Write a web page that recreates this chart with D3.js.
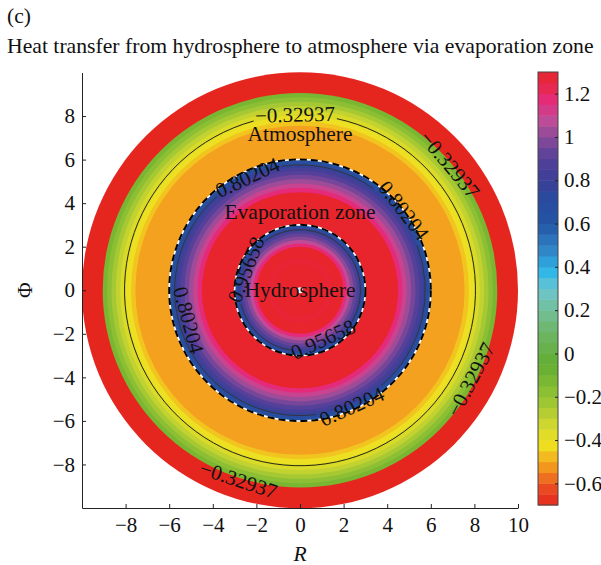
<!DOCTYPE html>
<html>
<head>
<meta charset="utf-8">
<script src="https://cdn.jsdelivr.net/npm/d3@7"></script>
<style>
  body { margin: 0; background: #fff; }
  svg text { font-family: "Liberation Serif", "Times New Roman", serif; fill: #111; }
</style>
</head>
<body>
<div id="chart"></div>
<script>
// ring bands of the field, from centre outwards: outer radius and value of each band
const bandOuterR = [1.2, 1.5, 2.0, 2.15, 2.3, 2.45, 2.6, 2.72, 2.84, 2.93, 3.0,
                    4.5, 4.7, 4.9, 5.1, 5.3, 5.48, 5.63, 5.76, 5.88, 6.0,
                    7.55, 7.75, 8.0, 8.25, 8.45, 8.65, 8.85, 9.05, 10];
const bandValue  = [1.30, 1.28, 1.30, 1.17, 1.08, 1.00, 0.93, 0.86, 0.78, 0.70, 0.64,
                    1.30, 1.17, 1.10, 1.03, 0.96, 0.90, 0.84, 0.77, 0.70, 0.64,
                    -0.51, -0.46, -0.41, -0.36, -0.30, -0.24, -0.18, -0.12, -0.70];

// zone borders (dashed) and contour lines
const zoneBorders = [3, 6];
const contourValues = [-0.32937, 0.80204, 0.95658];
const contourRadii  = [8.05, 5.75, 2.78];
// label positions: angle (deg) and radius of each inline label
const labelAngles = [[91.6, 40, -27.6, -108], [115, 37.6, 195, -66], [159, -65]];
const labelRadii  = [[8.05, 8.95, 8.85, 9.15], [5.7, 6.0, 5.3, 5.85], [2.65, 2.5]];

const zoneNames = ["Atmosphere", "Evaporation zone", "Hydrosphere"];
const zoneNameY = [7.2, 3.6, 0];

// colormap stops
const cmapValues = [-0.70, -0.62, -0.52, -0.42, -0.32, -0.20, -0.05, 0.10, 0.20, 0.30,
                    0.38, 0.48, 0.60, 0.72, 0.80, 0.90, 1.00, 1.08, 1.17, 1.24, 1.30];
const cmapColors = ["#e5261f", "#eb4b22", "#f39a1e", "#f1e01f", "#cbd630", "#93c234", "#62ad31",
                    "#6eb566", "#73bf9a", "#6bc6cf", "#2fb6e8", "#3085c6", "#2356a6", "#2a4a9e",
                    "#3a3f96", "#55409a", "#8a4a98", "#c04c98", "#e52a7a", "#e62848", "#e8242c"];

const xTicks = [-8, -6, -4, -2, 0, 2, 4, 6, 8, 10];
const yTicks = [-8, -6, -4, -2, 0, 2, 4, 6, 8];
const cbTicks = [-0.6, -0.4, -0.2, 0, 0.2, 0.4, 0.6, 0.8, 1, 1.2];
const cbMin = -0.7, cbMax = 1.3, cbStep = 0.05;

const width = 601, height = 565;
const fontSize = 21;

const svg = d3.select('#chart').append('svg')
  .attr('width', width)
  .attr('height', height);

const x = d3.scaleLinear().domain([-10, 10]).range([82, 518]);
const y = d3.scaleLinear().domain([-10, 10]).range([508, 72.5]);
const color = d3.scaleLinear().domain(cmapValues).range(cmapColors);
const cx = x(0), cy = y(0);
const px = r => x(r) - x(0);

// titles
svg.append('text').attr('x', 7).attr('y', 23).style('font-size', '21.5px').text('(c)');
svg.append('text').attr('x', 7).attr('y', 53).style('font-size', '21.7px')
  .text('Heat transfer from hydrosphere to atmosphere via evaporation zone');

// field: draw bands from outside in
const bands = bandOuterR.map((r, i) => ({r: r, v: bandValue[i]})).reverse();
svg.append('g').selectAll('circle').data(bands).enter().append('circle')
  .attr('cx', cx).attr('cy', cy)
  .attr('r', d => px(d.r))
  .style('fill', d => color(d.v));

// contour lines, broken where a label sits on the line
const gLines = svg.append('g');
const gLabels = svg.append('g');
contourValues.forEach((v, ci) => {
  const R = px(contourRadii[ci]);
  const txt = d3.format('.5f')(v).replace('-', '\u2212');
  const gaps = [];
  labelAngles[ci].forEach((a0, li) => {
    const a = ((a0 % 360) + 360) % 360;
    const t = a * Math.PI / 180;
    const Rl = px(labelRadii[ci][li]);
    let rot = 90 - a;
    while (rot > 90) rot -= 180;
    while (rot < -90) rot += 180;
    const lab = gLabels.append('text')
      .attr('transform', `translate(${cx + Rl * Math.cos(t)},${cy - Rl * Math.sin(t)}) rotate(${rot})`)
      .attr('text-anchor', 'middle')
      .attr('dy', '0.33em')
      .style('font-size', fontSize + 'px')
      .text(txt);
    const w = lab.node().getComputedTextLength();
    if (Math.abs(labelRadii[ci][li] - contourRadii[ci]) < 0.4) {
      gaps.push([a, (w / 2 + 2) / R * 180 / Math.PI]);
    }
  });
  gaps.sort((p, q) => p[0] - q[0]);
  const p = d3.path();
  if (gaps.length === 0) {
    p.moveTo(cx + R, cy);
    p.arc(cx, cy, R, 0, 2 * Math.PI);
  }
  gaps.forEach((g, i) => {
    const nxt = gaps[(i + 1) % gaps.length];
    const a0 = g[0] + g[1];
    let a1 = nxt[0] - nxt[1];
    if (a1 <= a0) a1 += 360;
    const t0 = a0 * Math.PI / 180, t1 = a1 * Math.PI / 180;
    p.moveTo(cx + R * Math.cos(t0), cy - R * Math.sin(t0));
    p.arc(cx, cy, R, -t0, -t1, true);
  });
  gLines.append('path').attr('d', p.toString())
    .style('fill', 'none').style('stroke', ci === 0 ? '#111' : '#333').style('stroke-width', 0.9);
});

// dashed zone borders
zoneBorders.forEach(r => {
  svg.append('circle').attr('cx', cx).attr('cy', cy).attr('r', px(r))
    .style('fill', 'none').style('stroke', '#fff').style('stroke-width', 1.6);
  svg.append('circle').attr('cx', cx).attr('cy', cy).attr('r', px(r))
    .style('fill', 'none').style('stroke', '#000').style('stroke-width', 2)
    .style('stroke-dasharray', '7,4');
});
svg.node().appendChild(gLabels.node());

// centre dot
svg.append('circle').attr('cx', cx).attr('cy', cy).attr('r', 3).style('fill', '#fff');

// zone names
svg.append('g').selectAll('text').data(zoneNames).enter().append('text')
  .attr('x', cx).attr('y', (d, i) => y(zoneNameY[i]))
  .attr('dy', '0.33em')
  .attr('text-anchor', 'middle')
  .style('font-size', '21.5px')
  .text(d => d);

// axes
const xAxis = d3.axisBottom(x).tickValues(xTicks).tickSizeInner(-4).tickSizeOuter(0).tickPadding(9);
const yAxis = d3.axisLeft(y).tickValues(yTicks).tickSizeInner(-4).tickSizeOuter(0).tickPadding(7);
const gx = svg.append('g').attr('transform', `translate(0,${y(-10)})`).call(xAxis);
const gy = svg.append('g').attr('transform', `translate(${x(-10)},0)`).call(yAxis);
[gx, gy].forEach(g => {
  g.selectAll('text').style('font-size', fontSize + 'px').style('font-family', '"Liberation Serif", serif');
  g.selectAll('line, path').style('stroke', '#222');
});

svg.append('text').attr('x', cx).attr('y', 561).attr('text-anchor', 'middle')
  .style('font-size', '21.5px').style('font-style', 'italic').text('R');
svg.append('text').attr('transform', `translate(32,${cy}) rotate(-90)`).attr('text-anchor', 'middle')
  .style('font-size', '21.5px').text('\u03A6');

// colorbar
const cb = d3.scaleLinear().domain([cbMin, cbMax]).range([505, 72]);
const cbX = 538, cbW = 20;
const cbLevels = d3.range(cbMin, cbMax - 1e-9, cbStep);
const gc = svg.append('g');
gc.selectAll('rect').data(cbLevels).enter().append('rect')
  .attr('x', cbX).attr('width', cbW)
  .attr('y', d => cb(d + cbStep))
  .attr('height', d => cb(d) - cb(d + cbStep) + 0.5)
  .style('fill', d => color(d + cbStep / 2));
gc.append('rect').attr('x', cbX).attr('y', cb(cbMax)).attr('width', cbW).attr('height', cb(cbMin) - cb(cbMax))
  .style('fill', 'none').style('stroke', '#444').style('stroke-width', 1);
const cbAxis = d3.axisRight(cb).tickValues(cbTicks).tickSizeInner(-3).tickSizeOuter(0).tickPadding(6)
  .tickFormat(d3.format('~g'));
const gcb = svg.append('g').attr('transform', `translate(${cbX + cbW},0)`).call(cbAxis);
gcb.select('.domain').remove();
gcb.selectAll('line').style('stroke', '#222');
gcb.selectAll('text').style('font-size', fontSize + 'px').style('font-family', '"Liberation Serif", serif');
</script>
</body>
</html>
